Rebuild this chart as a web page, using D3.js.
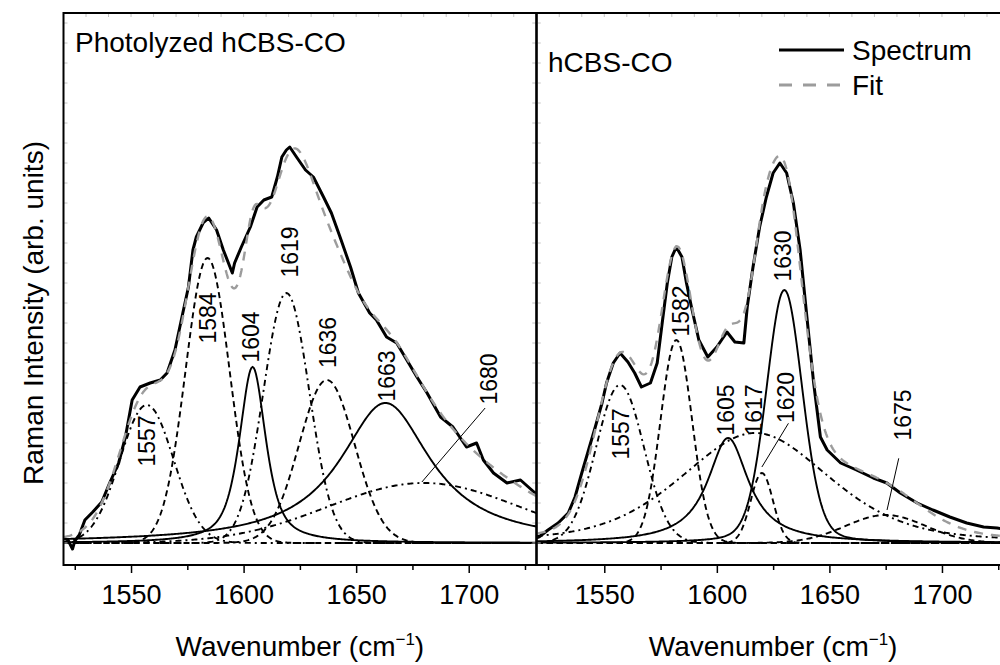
<!DOCTYPE html>
<html>
<head>
<meta charset="utf-8">
<script src="https://cdn.jsdelivr.net/npm/d3@7"></script>
<style>
body { margin: 0; background: #fff; }
text { font-family: "Liberation Sans", Arial, sans-serif; fill: #000; }
</style>
</head>
<body>
<svg width="1000" height="665"></svg>
<script>
// ---- values ----
var wnDomain = [1520, 1730];
var majorTicks = [1550, 1600, 1650, 1700];
var minorTicks = [1525, 1575, 1625, 1675, 1725];

// Photolyzed hCBS-CO, measured spectrum (arb. units)
var photoWn = [1520, 1522, 1524, 1525, 1527, 1529.5, 1533, 1537, 1540.5, 1544.5, 1547.5, 1550.5, 1554, 1558.5, 1563,
  1566, 1569.5, 1573, 1575.5, 1577.5, 1579, 1582, 1584.5, 1588, 1591, 1595, 1596, 1599, 1603, 1606,
  1609, 1612.5, 1615, 1617, 1619, 1620.5, 1623.5, 1627.5, 1631, 1635.5, 1639, 1643, 1647.5, 1651, 1656,
  1659, 1663.5, 1668, 1672.5, 1677, 1681.5, 1687.5, 1693, 1699, 1703.5, 1706.5, 1711, 1717, 1723, 1729, 1730];
var photoInt = [50, 30, -60, 20, 80, 230, 310, 410, 600, 800, 1060, 1430, 1560, 1600, 1630,
  1700, 1930, 2300, 2560, 2930, 3060, 3200, 3250, 3130, 2930, 2700, 2800, 2960, 3160, 3360,
  3430, 3460, 3660, 3860, 3930, 3960, 3860, 3730, 3660, 3460, 3300, 3050, 2760, 2500, 2300,
  2230, 2060, 2000, 1830, 1660, 1500, 1260, 1160, 960, 1000, 830, 700, 600, 630, 510, 500];

// Photolyzed hCBS-CO, fitted bands
var photoBand = ["1557", "1584", "1604", "1619", "1636", "1663", "1680"];
var photoCenter = [1557, 1584, 1604, 1619, 1637, 1663, 1680];
var photoHeight = [1380, 2850, 1760, 2500, 1630, 1400, 600];
var photoFwhm = [28, 23, 14, 24, 29, 49, 100];
var photoLorentz = [0, 0, 0.7, 0, 0, 1, 0];
var photoStyle = ["dashdot", "dash", "solid", "dashdot", "dash", "solid", "dashdot"];
var photoLabelWn = [1557, 1584, 1603.3, 1620.7, 1637.3, 1663.6, 1708.8];
var photoLabelInt = [1020, 2250, 2060, 2910, 2005, 1670, 1640];
var photoLeader = [null, null, null, null, null, null, [1707.3, 1350, 1679.2, 610]];

// hCBS-CO, measured spectrum
var nativeWn = [1520, 1521, 1525, 1529.5, 1534, 1537, 1540, 1543, 1546, 1549, 1551, 1554, 1557, 1560.5, 1563.5,
  1566.5, 1570.5, 1573.5, 1575.5, 1578, 1580, 1582, 1584.5, 1586.5, 1589, 1592, 1596, 1600, 1604.5, 1608,
  1612, 1613.5, 1616, 1619, 1622, 1625, 1628, 1631, 1634, 1637, 1640, 1643, 1646, 1649, 1655,
  1662, 1669.5, 1675.5, 1681.5, 1689, 1696, 1703.5, 1711, 1718.5, 1724.5, 1730];
var nativeInt = [50, 60, 130, 200, 300, 460, 700, 930, 1160, 1400, 1600, 1800, 1900, 1810, 1700,
  1560, 1600, 1800, 2160, 2600, 2860, 2960, 2860, 2600, 2330, 2030, 1860, 1960, 2110, 2010,
  2000, 2360, 2750, 3160, 3460, 3700, 3800, 3700, 3400, 2930, 2260, 1600, 1060, 930, 800,
  730, 650, 600, 500, 400, 330, 260, 200, 160, 150, 130];

// hCBS-CO, fitted bands
var nativeBand = ["1557", "1582", "1605", "1617", "1620", "1630", "1675"];
var nativeCenter = [1557, 1582, 1605, 1617, 1620, 1630, 1675];
var nativeHeight = [1580, 2030, 1050, 1100, 700, 2530, 280];
var nativeFwhm = [25, 16.5, 22, 78, 11.6, 19, 42];
var nativeLorentz = [0, 0, 1, 0.4, 0, 0.2, 0];
var nativeStyle = ["dashdot", "dash", "solid", "dashdot", "dash", "solid", "dash"];
var nativeLabelWn = [1557.4, 1584.2, 1604.2, 1616.7, 1630.9, 1629.6, 1682.9];
var nativeLabelInt = [1090, 2320, 1330, 1330, 1455, 2870, 1280];
var nativeLeader = [null, null, null, null, [1631.8, 1197, 1620, 760], null, [1680.8, 847, 1675.6, 330]];

// ---- layout ----
var svg = d3.select("svg");
var top_ = 13, bottom = 565;
var fontMain = 27;

var y = d3.scaleLinear().domain([-220, 5300]).range([bottom, top_]);
var xLeft = d3.scaleLinear().domain(wnDomain).range([63.5, 536.25]);
var xRight = d3.scaleLinear().domain(wnDomain).range([536.75, 1009.5]);

var dashes = { solid: null, dash: "6,4", dashdot: "6,4,2,4" };

// pseudo-Voigt band shape
function band(w, c, h, f, eta) {
  var d = (w - c) / (f / 2);
  return h * (eta / (1 + d * d) + (1 - eta) * Math.exp(-Math.LN2 * d * d));
}

var grid = d3.range(wnDomain[0], wnDomain[1] + 0.01, 0.5);

function drawPanel(id, x, specWn, specInt, names, centers, heights, fwhms, etas, styles, labWn, labInt, leaders) {
  var x0 = x.range()[0], x1 = x.range()[1];

  svg.append("clipPath").attr("id", id)
    .append("rect").attr("x", x0).attr("y", top_).attr("width", x1 - x0).attr("height", bottom - top_);

  var g = svg.append("g").attr("clip-path", "url(#" + id + ")");
  var line = d3.line().x(function(d) { return x(d[0]); }).y(function(d) { return y(d[1]); });

  // band components
  var fit = grid.map(function(w) { return [w, 0]; });
  centers.forEach(function(c, i) {
    var pts = grid.map(function(w, k) {
      var v = band(w, c, heights[i], fwhms[i], etas[i]);
      fit[k][1] += v;
      return [w, v];
    });
    g.append("path").datum(pts)
      .attr("d", line)
      .attr("fill", "none")
      .attr("stroke", "#000")
      .attr("stroke-width", 1.9)
      .attr("stroke-dasharray", dashes[styles[i]]);
  });

  // measured spectrum
  var spec = specWn.map(function(w, i) { return [w, specInt[i]]; });
  g.append("path").datum(spec)
    .attr("d", line)
    .attr("fill", "none")
    .attr("stroke", "#000")
    .attr("stroke-width", 3)
    .attr("stroke-linejoin", "round");

  // fit = sum of bands
  g.append("path").datum(fit)
    .attr("d", line)
    .attr("fill", "none")
    .attr("stroke", "#9c9c9c")
    .attr("stroke-width", 2.4)
    .attr("stroke-dasharray", "9,8");

  // band labels
  names.forEach(function(n, i) {
    g.append("text")
      .attr("transform", "translate(" + x(labWn[i]) + "," + y(labInt[i]) + ") rotate(-90)")
      .attr("text-anchor", "middle")
      .attr("dominant-baseline", "central")
      .attr("font-size", "23px")
      .text(n);
    if (leaders[i]) {
      var L = leaders[i];
      g.append("line")
        .attr("x1", x(L[0])).attr("y1", y(L[1]))
        .attr("x2", x(L[2])).attr("y2", y(L[3]))
        .attr("stroke", "#000").attr("stroke-width", 1);
    }
  });

  // faint inner ticks on the frame
  var inner = svg.append("g").attr("stroke", "#c4c4c4").attr("stroke-width", 1);
  d3.range(0, 5300, 200).forEach(function(v) {
    inner.append("line").attr("x1", x0).attr("x2", x0 + 4).attr("y1", y(v)).attr("y2", y(v));
    inner.append("line").attr("x1", x1).attr("x2", x1 - 4).attr("y1", y(v)).attr("y2", y(v));
  });
  d3.range(1520, 1731, 10).forEach(function(w) {
    inner.append("line").attr("x1", x(w)).attr("x2", x(w)).attr("y1", top_).attr("y2", top_ + 4);
  });

  // frame
  svg.append("rect")
    .attr("x", x0).attr("y", top_).attr("width", x1 - x0).attr("height", bottom - top_)
    .attr("fill", "none").attr("stroke", "#000").attr("stroke-width", 2);

  // x axis: major with labels, minor without
  var ax = svg.append("g").attr("transform", "translate(0," + bottom + ")")
    .call(d3.axisBottom(x).tickValues(majorTicks).tickSize(8).tickPadding(12).tickFormat(d3.format("d")));
  ax.select(".domain").remove();
  ax.selectAll("line").attr("stroke-width", 1.5);
  ax.selectAll("text").attr("font-size", fontMain + "px")
    .attr("font-family", "'Liberation Sans', Arial, sans-serif");
  var axm = svg.append("g").attr("transform", "translate(0," + bottom + ")")
    .call(d3.axisBottom(x).tickValues(minorTicks).tickSize(5).tickFormat(""));
  axm.select(".domain").remove();
  axm.selectAll("line").attr("stroke-width", 1.5);

  // x axis title
  var t = svg.append("text")
    .attr("x", (x0 + x1) / 2).attr("y", 656)
    .attr("text-anchor", "middle")
    .attr("font-size", "28px");
  t.append("tspan").text("Wavenumber (cm");
  t.append("tspan").attr("dy", -11).attr("font-size", "17px").text("\u22121");
  t.append("tspan").attr("dy", 11).text(")");
}

drawPanel("clipL", xLeft, photoWn, photoInt, photoBand, photoCenter, photoHeight, photoFwhm, photoLorentz,
  photoStyle, photoLabelWn, photoLabelInt, photoLeader);
drawPanel("clipR", xRight, nativeWn, nativeInt, nativeBand, nativeCenter, nativeHeight, nativeFwhm, nativeLorentz,
  nativeStyle, nativeLabelWn, nativeLabelInt, nativeLeader);

// panel titles
svg.append("text").attr("x", 75).attr("y", 52).attr("font-size", "28px").text("Photolyzed hCBS-CO");
svg.append("text").attr("x", 548).attr("y", 72).attr("font-size", "28px").text("hCBS-CO");

// legend
var legend = svg.append("g");
legend.append("line").attr("x1", 779).attr("x2", 844).attr("y1", 50).attr("y2", 50)
  .attr("stroke", "#000").attr("stroke-width", 3);
legend.append("line").attr("x1", 779).attr("x2", 844).attr("y1", 85).attr("y2", 85)
  .attr("stroke", "#9c9c9c").attr("stroke-width", 3).attr("stroke-dasharray", "13,11");
legend.append("text").attr("x", 852).attr("y", 60).attr("font-size", "28px").text("Spectrum");
legend.append("text").attr("x", 852).attr("y", 95).attr("font-size", "28px").text("Fit");

// y axis title
svg.append("text")
  .attr("transform", "translate(33,313) rotate(-90)")
  .attr("text-anchor", "middle")
  .attr("dominant-baseline", "central")
  .attr("font-size", "28px")
  .text("Raman Intensity (arb. units)");
</script>
</body>
</html>
